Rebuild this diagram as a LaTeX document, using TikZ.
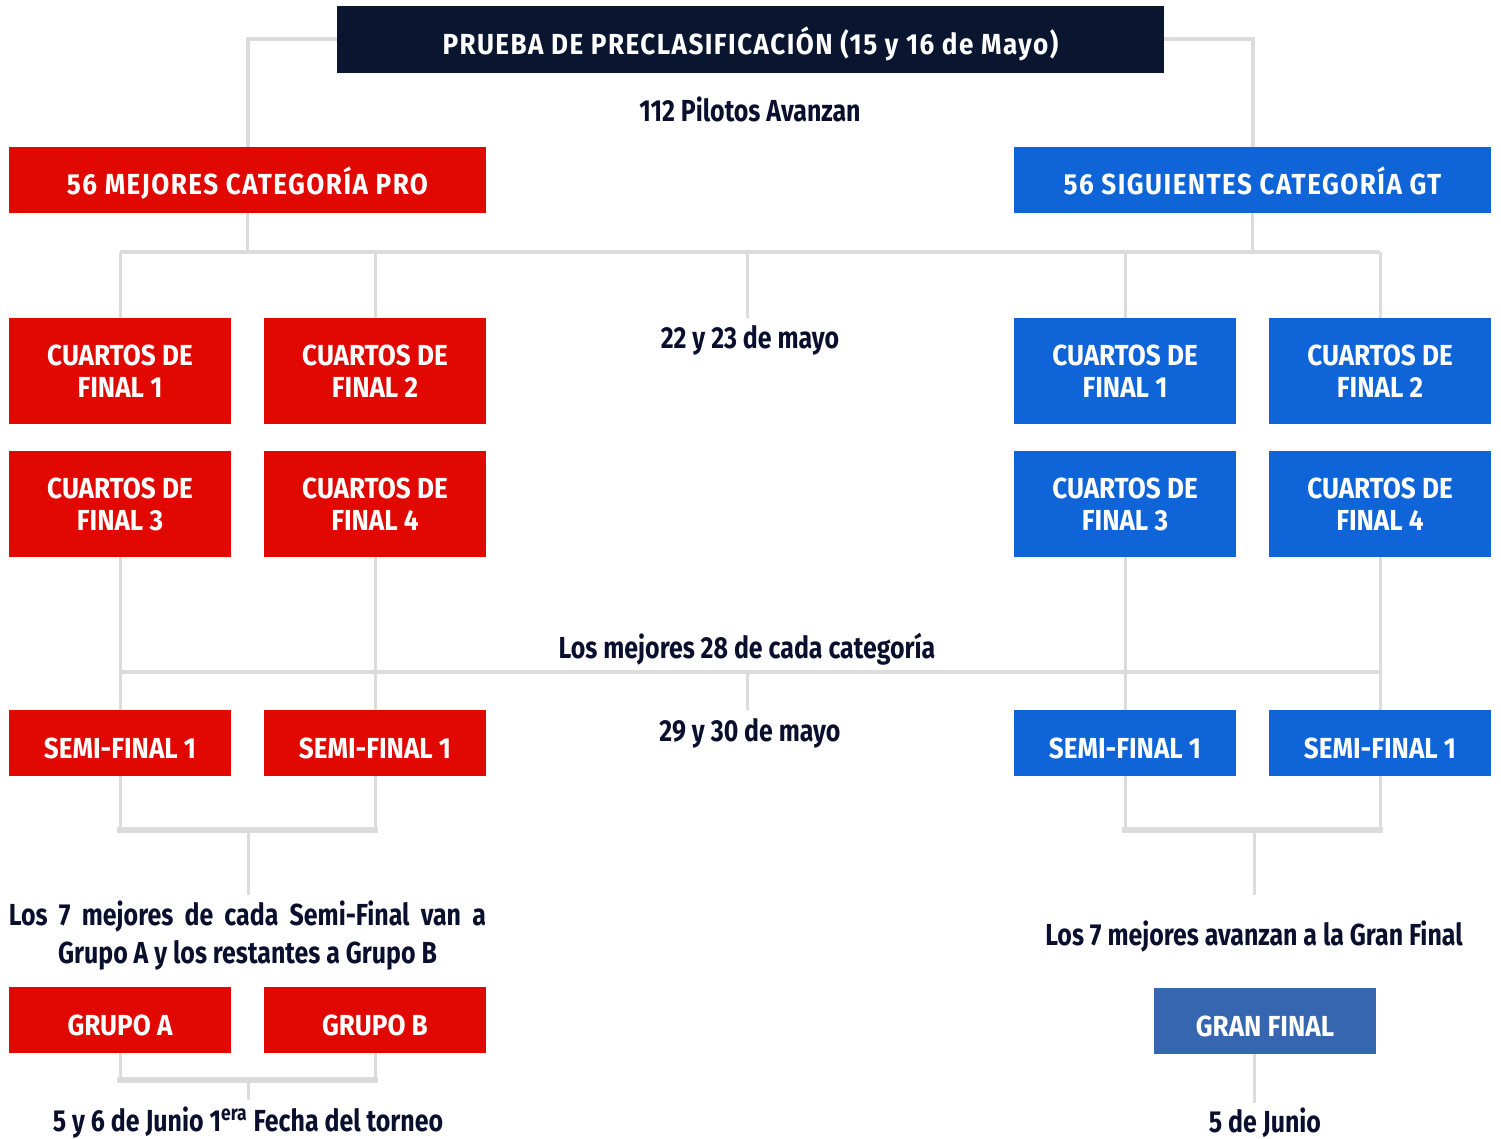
\documentclass[tikz,border=0pt]{standalone}
\usepackage{fontspec}
\newfontfamily\boxf{Fira Sans}[FakeStretch=0.9]
\newfontfamily\boxls{Fira Sans}[FakeStretch=0.9, LetterSpace=5]
\newfontfamily\lblf{Fira Sans}[FakeStretch=0.82]
\definecolor{cRed}{HTML}{E00800}
\definecolor{cBlue}{HTML}{0F64D8}
\definecolor{cNavy}{HTML}{0A1530}
\definecolor{cGran}{HTML}{3766B0}
\definecolor{cGray}{HTML}{DCDCDC}
\definecolor{cText}{HTML}{0A0F2D}
\begin{document}
\begin{tikzpicture}[x=0.5pt,y=-0.5pt,
  box/.style={rectangle, inner sep=0pt, text=white, align=center,
    font=\boxf\bfseries\fontsize{14.5}{16}\selectfont},
  low/.style={text height=15pt, text depth=0pt},
  boxw/.style={box, low, font=\boxls\bfseries\fontsize{14.5}{16}\selectfont},
  redbox/.style={box, fill=cRed},
  bluebox/.style={box, fill=cBlue},
  qbox/.style={minimum width=111pt, minimum height=53pt},
  sbox/.style={minimum width=111pt, minimum height=33pt, low},
  wbox/.style={minimum width=238.5pt, minimum height=33pt},
  lbl/.style={inner sep=0pt, text=cText, anchor=base,
    font=\lblf\bfseries\fontsize{15.2}{19}\selectfont},
  vconn/.style={draw=cGray, line width=1.5pt},
  hconn/.style={draw=cGray, line width=2pt},
  bconn/.style={draw=cGray, line width=3pt}]
\useasboundingbox (0,0) rectangle (1501,1139);

% title
\node[boxw, fill=cNavy, minimum width=413.5pt, minimum height=33.5pt] (title) at (750.5,39.5)
  {PRUEBA DE PRECLASIFICACIÓN (15 y 16 de Mayo)};
\node[lbl] (l112) at (750,122) {112 Pilotos Avanzan};

% categories
\node[boxw, fill=cRed, wbox] (pro) at (247.5,180) {56 MEJORES CATEGORÍA PRO};
\node[boxw, fill=cBlue, wbox] (gt) at (1252.5,180) {56 SIGUIENTES CATEGORÍA GT};

% quarter finals
\node[redbox, qbox] (q1L) at (120,371) {CUARTOS DE\\FINAL 1};
\node[redbox, qbox] (q2L) at (375,371) {CUARTOS DE\\FINAL 2};
\node[redbox, qbox] (q3L) at (120,504) {CUARTOS DE\\FINAL 3};
\node[redbox, qbox] (q4L) at (375,504) {CUARTOS DE\\FINAL 4};
\node[bluebox, qbox] (q1R) at (1125,371) {CUARTOS DE\\FINAL 1};
\node[bluebox, qbox] (q2R) at (1380,371) {CUARTOS DE\\FINAL 2};
\node[bluebox, qbox] (q3R) at (1125,504) {CUARTOS DE\\FINAL 3};
\node[bluebox, qbox] (q4R) at (1380,504) {CUARTOS DE\\FINAL 4};
\node[lbl] (l2223) at (750,349) {22 y 23 de mayo};

% semi finals
\node[redbox, sbox] (s1L) at (120,743) {SEMI-FINAL 1};
\node[redbox, sbox] (s2L) at (375,743) {SEMI-FINAL 1};
\node[bluebox, sbox] (s1R) at (1125,743) {SEMI-FINAL 1};
\node[bluebox, sbox] (s2R) at (1380,743) {SEMI-FINAL 1};
\node[lbl] (l28) at (747,658) {Los mejores 28 de cada categoría};
\node[lbl] (l2930) at (750,741) {29 y 30 de mayo};

% bottom left
\node[lbl, anchor=center, align=center] (l7L) at (247.5,936)
  {\hbox to 238.5pt{Los\hfil\ 7\hfil\ mejores\hfil\ de\hfil\ cada\hfil\ Semi-Final\hfil\ van\hfil\ a}\\Grupo A y los restantes a Grupo B};
\node[redbox, sbox] (gA) at (120,1020) {GRUPO A};
\node[redbox, sbox] (gB) at (375,1020) {GRUPO B};
\node[lbl] (l56) at (248,1131) {5 y 6 de Junio 1\textsuperscript{era} Fecha del torneo};

% bottom right
\node[lbl] (l7R) at (1254,945) {Los 7 mejores avanzan a la Gran Final};
\node[box, fill=cGran, sbox] (gran) at (1265,1021) {GRAN FINAL};
\node[lbl] (l5) at (1265,1132) {5 de Junio};

% coordinates
\coordinate (h1) at (747,252);
\coordinate (m1) at (747,318);
\coordinate (h2) at (747,672);
\coordinate (m2) at (747,710);
\coordinate (jL) at (248,830);
\coordinate (jLe) at (248,895);
\coordinate (jR) at (1254,830);
\coordinate (jRe) at (1254,895);
\coordinate (kL) at (248,1080);
\coordinate (kLe) at (248,1100);
\coordinate (gEnd) at (1254,1103);

% connectors: top
\draw[hconn] (title.west) -| (pro.north);
\draw[hconn] (title.east) -| (gt.north);
\draw[vconn] (pro.south) -- (pro.south |- h1);
\draw[vconn] (gt.south) -- (gt.south |- h1);
\draw[hconn] (q1L.north |- h1) -- (q2R.north |- h1);
\draw[vconn] (q1L.north |- h1) -- (q1L.north);
\draw[vconn] (q2L.north |- h1) -- (q2L.north);
\draw[vconn] (q1R.north |- h1) -- (q1R.north);
\draw[vconn] (q2R.north |- h1) -- (q2R.north);
\draw[vconn] (h1) -- (m1);

% connectors: middle
\draw[vconn] (q3L.south) -- (s1L.north);
\draw[vconn] (q4L.south) -- (s2L.north);
\draw[vconn] (q3R.south) -- (s1R.north);
\draw[vconn] (q4R.south) -- (s2R.north);
\draw[hconn] (s1L.north |- h2) -- (s2R.north |- h2);
\draw[vconn] (h2) -- (m2);

% connectors: semis to bottom
\draw[vconn] (s1L.south) -- (s1L.south |- jL);
\draw[vconn] (s2L.south) -- (s2L.south |- jL);
\draw[bconn] ([xshift=-1.5pt]s1L.south |- jL) -- ([xshift=1.5pt]s2L.south |- jL);
\draw[vconn] (jL) -- (jLe);
\draw[vconn] (s1R.south) -- (s1R.south |- jR);
\draw[vconn] (s2R.south) -- (s2R.south |- jR);
\draw[bconn] ([xshift=-1.5pt]s1R.south |- jR) -- ([xshift=1.5pt]s2R.south |- jR);
\draw[vconn] (jR) -- (jRe);

% grupos
\draw[vconn] (gA.south) -- (gA.south |- kL);
\draw[vconn] (gB.south) -- (gB.south |- kL);
\draw[bconn] ([xshift=-1.5pt]gA.south |- kL) -- ([xshift=1.5pt]gB.south |- kL);
\draw[vconn] (kL) -- (kLe);
\draw[vconn] (gran.south -| gEnd) -- (gEnd);
\end{tikzpicture}
\end{document}
